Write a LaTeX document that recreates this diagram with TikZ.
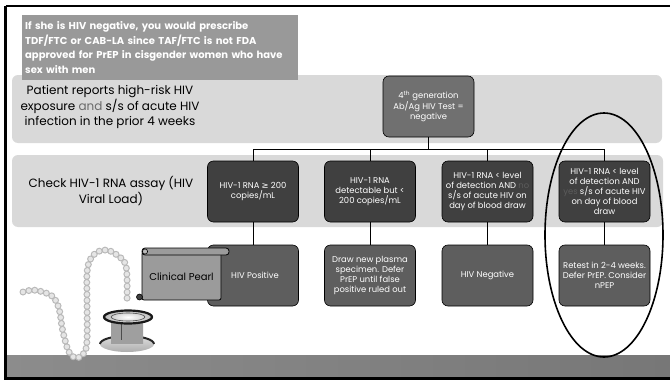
\documentclass[tikz,border=0pt]{standalone}
\usepackage{fontspec}
\setmainfont{Poppins}
\newfontfamily\symfont{DejaVu Sans}

\definecolor{bandgray}{HTML}{D9D9D9}
\definecolor{topfill}{HTML}{707070}
\definecolor{testfill}{HTML}{404040}
\definecolor{outfill}{HTML}{5E5E5E}
\definecolor{notegray}{HTML}{999999}
\definecolor{scrollgray}{HTML}{9B9B9B}
\definecolor{dimtext}{HTML}{5C5C5C}
\definecolor{andgray}{HTML}{6A6A6A}
\definecolor{footL}{HTML}{8C8C8C}
\definecolor{footM}{HTML}{A6A6A6}
\definecolor{footR}{HTML}{777777}

\tikzset{
  band/.style={fill=bandgray, rounded corners=6pt},
  flowbox/.style={draw=black, line width=0.6pt, rounded corners=6pt, text=white,
    align=center, minimum width=91pt, minimum height=61pt, inner sep=1pt,
    font=\fontsize{8.4}{10}\selectfont},
  topbox/.style={flowbox, fill=topfill},
  testbox/.style={flowbox, fill=testfill},
  outbox/.style={flowbox, fill=outfill},
  rowlabel/.style={align=center, text=black, font=\fontsize{12}{15.5}\selectfont},
  link/.style={draw=black, line width=0.7pt},
  pearlrow/.style={line cap=round, dash pattern=on 0pt off 6pt},
}

\begin{document}
\begin{tikzpicture}[x=1pt, y=-1pt]
\useasboundingbox (0,0) rectangle (670,380);
\fill[white] (0,0) rectangle (670,380);

% footer strip
\shade[left color=footL, middle color=footM, right color=footR] (5,355) rectangle (670,378);

% row bands
\fill[band] (12,75) rectangle (662,143);
\fill[band] (12,155) rectangle (663,227);

% row labels
\node[rowlabel] (lab1) at (110,107) {Patient reports high-risk HIV\\exposure {\color{andgray}and} s/s of acute HIV\\infection in the prior 4 weeks};
\node[rowlabel] (lab2) at (111,191) {Check HIV-1 RNA assay (HIV\\Viral Load)};

% flow boxes
\node[topbox] (top) at (428.5,106.5) {4\textsuperscript{th} generation\\Ab/Ag HIV Test =\\negative};

\node[testbox] (t1) at (253,191.5) {HIV-1 RNA {\symfont ≥} 200\\copies/mL};
\node[testbox] (t2) at (370,191.5) {HIV-1 RNA\\detectable but <\\200 copies/mL};
\node[testbox] (t3) at (487.5,191.5) {HIV-1 RNA < level\\of detection AND {\color{dimtext}no}\\s/s of acute HIV on\\day of blood draw};
\node[testbox] (t4) at (604.5,191.5) {HIV-1 RNA < level\\of detection AND\\{\color{dimtext}yes} s/s of acute HIV\\on day of blood\\draw};

\node[outbox] (o1) at (253,275.5) {\hspace*{4pt}HIV Positive};
\node[outbox] (o2) at (370,275.5) {Draw new plasma\\specimen. Defer\\PrEP until false\\positive ruled out};
\node[outbox] (o3) at (487.5,275.5) {HIV Negative};
\node[outbox] (o4) at (604.5,275.5) {Retest in 2-4 weeks.\\Defer PrEP. Consider\\nPEP};

% connectors
\coordinate (bus) at (428.5,149);
\draw[link] (top.south) -- (bus);
\draw[link] (t1.north) |- (t4.north |- bus) -- (t4.north);
\draw[link] (t2.north) -- (t2.north |- bus);
\draw[link] (t3.north) -- (t3.north |- bus);
\draw[link] (t1.south) -- (o1.north);
\draw[link] (t2.south) -- (o2.north);
\draw[link] (t3.south) -- (o3.north);
\draw[link] (t4.south) -- (o4.north);

% note panel
\node[anchor=north west, fill=notegray, text=white, align=left,
      minimum width=276pt, minimum height=65pt, text width=270pt,
      inner xsep=3pt, inner ysep=3pt,
      font=\bfseries\fontsize{10}{14.5}\selectfont] (note) at (22,15)
  {If she is HIV negative, you would prescribe\\TDF/FTC or CAB-LA since TAF/FTC is not FDA\\approved for PrEP in cisgender women who have\\sex with men};

% highlight ring around the last column
\draw[line width=1.6pt] (604,235) ellipse [x radius=59, y radius=122];

% pearl necklace: round dots along one curve, dark rim then light core
\def\pearlcurve{(23,292) (33,290) (43,292) (52,296) (57,303) (60,313)
    (62,327) (65,340) (69,352) (76,358) (84,353) (87,340) (87,300) (87,273) (90,260)
    (97,252) (107,250) (117,255) (125,263) (127,277) (127,302)}
\draw[pearlrow, line width=7pt, gray!55] plot[smooth, tension=0.6] coordinates \pearlcurve;
\draw[pearlrow, line width=4.6pt, gray!20] plot[smooth, tension=0.6] coordinates \pearlcurve;

% stethoscope chest piece
\fill[white] (96,305) rectangle (158,355);
\shade[top color=gray!25, bottom color=gray!65] (127,344) ellipse [x radius=27, y radius=8];
\draw[line width=2pt, black!85] (100,344) arc[start angle=180, end angle=360, x radius=27, y radius=8];
\shade[left color=gray!75, middle color=white, right color=gray!75] (111,318) rectangle (143,343);
\draw[black!70, line width=0.8pt] (121,324) -- (121,340);
\shade[inner color=white, outer color=gray!55] (128,317) ellipse [x radius=25, y radius=7];
\draw[line width=2.2pt, black!90] (128,317) ellipse [x radius=24, y radius=6.5];
\draw[line width=0.6pt, black!70] (128,317) ellipse [x radius=17, y radius=4];

% clinical pearl scroll
\draw[fill=scrollgray, line width=0.8pt, rounded corners=2pt] (142,252) rectangle (221,300);
\draw[fill=scrollgray, line width=0.8pt, rounded corners=3pt] (142,248) rectangle (229,255);
\draw[fill=gray!55, line width=0.6pt] (145,251.5) circle (2.6);
\draw[fill=black!75, line width=0.6pt] (139.5,297) circle (3);
\node[font=\fontsize{10}{12}\selectfont, text=black] (pearl) at (181.5,277) {Clinical Pearl};

% slide frame
\draw[line width=2.5pt, black] (5.5,6) -- (670,6);
\draw[line width=2.5pt, black] (5.5,6) -- (5.5,378.5) -- (670,378.5);
\end{tikzpicture}
\end{document}
